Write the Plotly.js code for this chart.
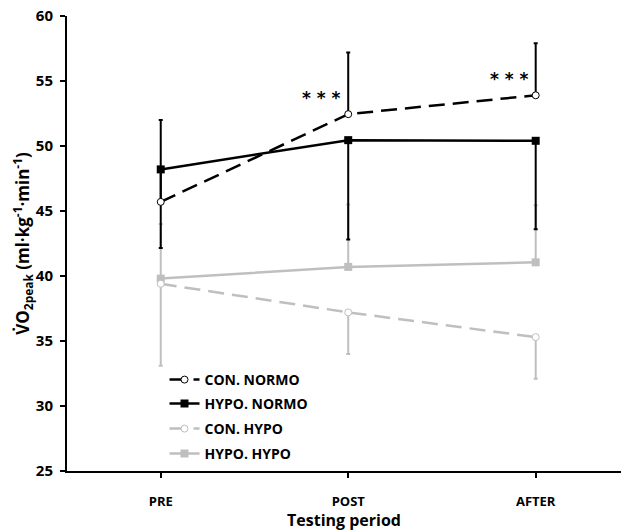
<!DOCTYPE html>
<html><head><meta charset="utf-8">
<script src="https://cdn.plot.ly/plotly-3.0.1.min.js"></script>
<style>body{margin:0;background:#fff}#c{width:621px;height:531px}</style>
</head><body><div id="c"></div>
<script>
const categories = ["PRE", "POST", "AFTER"];
const conNormo = [45.7, 52.45, 53.9];
const conNormoErrUp = [6.3, 4.75, 4.0];
const hypoNormo = [48.2, 50.45, 50.4];
const hypoNormoErrDown = [6.05, 7.65, 6.8];
const conHypo = [39.4, 37.2, 35.3];
const conHypoErrDown = [6.3, 3.2, 3.2];
const hypoHypo = [39.8, 40.7, 41.05];
const hypoHypoErrUp = [4.2, 4.8, 4.4];
const seriesNames = ["CON. NORMO", "HYPO. NORMO", "CON. HYPO", "HYPO. HYPO"];
const sigLabels = ["", "* * *", "* * *"];

const black = "#000000", grey = "#bfbfbf";
const xi = categories.map((c, i) => i);

const traces = [
  {x: xi, y: hypoHypo, name: seriesNames[3], legend: "legend4", mode: "lines+markers",
   line: {color: grey, width: 2.5}, marker: {symbol: "square", size: 8, color: grey},
   error_y: {type: "data", symmetric: false, array: hypoHypoErrUp, arrayminus: [0,0,0], color: grey, thickness: 2, width: 2}},
  {x: xi, y: conHypo, name: seriesNames[2], legend: "legend3", mode: "lines+markers",
   line: {color: grey, width: 2.5, dash: "16px,8px"}, marker: {symbol: "circle", size: 7, color: "#fff", line: {color: grey, width: 1}},
   error_y: {type: "data", symmetric: false, array: [0,0,0], arrayminus: conHypoErrDown, color: grey, thickness: 2, width: 2}},
  {x: xi, y: hypoNormo, name: seriesNames[1], legend: "legend2", mode: "lines+markers",
   line: {color: black, width: 2.5}, marker: {symbol: "square", size: 8, color: black},
   error_y: {type: "data", symmetric: false, array: [0,0,0], arrayminus: hypoNormoErrDown, color: black, thickness: 2, width: 2}},
  {x: xi, y: conNormo, name: seriesNames[0], legend: "legend", mode: "lines+markers",
   line: {color: black, width: 2.5, dash: "16px,8px"}, marker: {symbol: "circle", size: 7, color: "#fff", line: {color: black, width: 1}},
   error_y: {type: "data", symmetric: false, array: conNormoErrUp, arrayminus: [0,0,0], color: black, thickness: 2, width: 2}}
];

const annotations = [];
sigLabels.forEach((s, i) => {
  if (s) annotations.push({x: i, y: conNormo[i], text: s, showarrow: false,
    xanchor: "right", yanchor: "middle", xshift: -5, yshift: 16,
    font: {family: "DejaVu Sans", size: 17, color: "#000", weight: "bold"}});
});

const legFont = {family: "Open Sans", size: 14, color: "#000", weight: "bold"};
const rowY = [380, 404, 429, 454];
function leg(py) {
  return {x: 0.176, y: (471 - py) / 455, xanchor: "left", yanchor: "middle",
    font: legFont, itemwidth: 30, bgcolor: "rgba(0,0,0,0)", borderwidth: 0};
}

const layout = {
  width: 621, height: 531,
  margin: {l: 67, r: 0, t: 16, b: 60},
  paper_bgcolor: "#fff", plot_bgcolor: "#fff",
  showlegend: true,
  legend: leg(rowY[0]), legend2: leg(rowY[1]), legend3: leg(rowY[2]), legend4: leg(rowY[3]),
  font: {family: "Open Sans", color: "#000"},
  xaxis: {
    range: [-0.5, 2.455], tickmode: "array", tickvals: xi, ticktext: categories,
    showline: true, linecolor: "#000", linewidth: 2, ticks: "outside", tickson: "boundaries",
    ticklen: 5, tickwidth: 2, tickcolor: "#000", showgrid: false, zeroline: false,
    ticklabelstandoff: 12,
    tickfont: {family: "Open Sans", size: 13, color: "#000", weight: "bold"},
    title: {text: "Testing period", font: {family: "Open Sans", size: 16, color: "#000", weight: "bold"}, standoff: 1}
  },
  yaxis: {
    range: [25, 60], dtick: 5, showline: true, linecolor: "#000", linewidth: 2,
    ticks: "outside", ticklen: 5, tickwidth: 2, tickcolor: "#000", showgrid: false, zeroline: false,
    ticklabelstandoff: 4,
    tickfont: {family: "Open Sans", size: 15, color: "#000", weight: "bold"},
    title: {text: "V\u0307O<sub>2peak</sub> (ml·kg<sup>-1</sup>·min<sup>-1</sup>)",
      font: {family: "Open Sans", size: 17, color: "#000", weight: "bold"}, standoff: 1}
  },
  annotations: annotations
};
Plotly.newPlot("c", traces, layout, {displayModeBar: false, staticPlot: true});
</script></body></html>
